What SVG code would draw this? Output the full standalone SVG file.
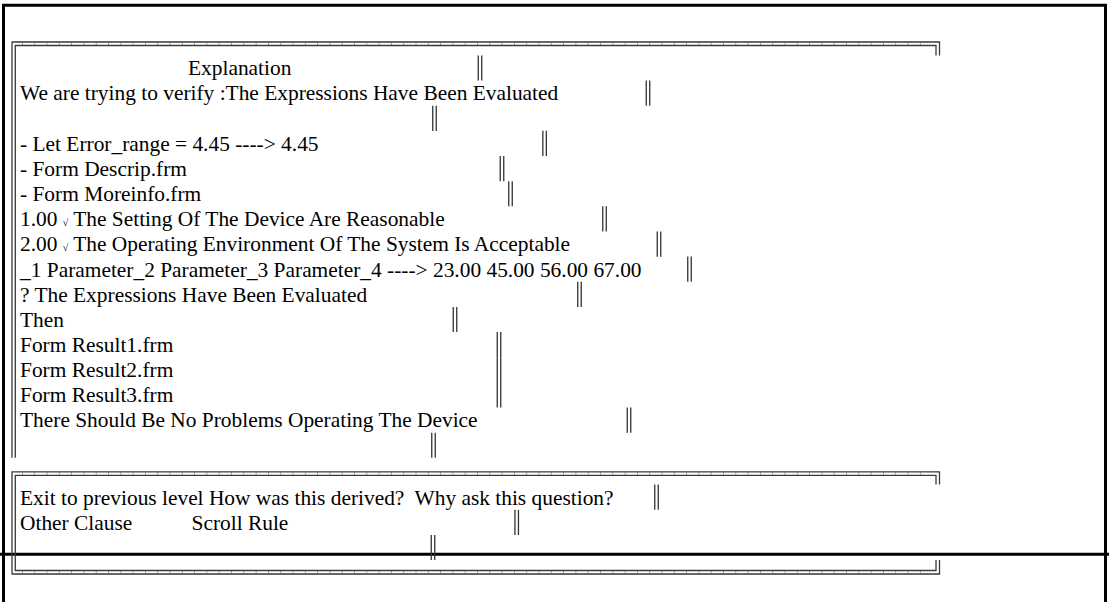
<svg xmlns="http://www.w3.org/2000/svg" xmlns:xlink="http://www.w3.org/1999/xlink" width="1109" height="602" viewBox="0 0 1109 602">
  <style>
    .t { font-family: "Liberation Serif", "Times New Roman", serif; font-size: 21.4px; fill: #000; }
    .chk { font-size: 10px; }
    .dbl { fill: none; stroke: #3a3a3a; stroke-width: 1.3; }
    .tick { fill: none; stroke: #9a9a9a; stroke-width: 3.5; stroke-dasharray: 0.8 11.5; }
    .frame { fill: none; stroke: #000; stroke-width: 3; }
  </style>
  <defs>
    <!-- double vertical bar, one text cell high, centred on its origin -->
    <path id="vbar" d="M-1.75,-12.6V12.6M1.75,-12.6V12.6" fill="none" stroke="#333" stroke-width="1.3"/>
  </defs>

  <rect width="1109" height="602" fill="#fff"/>

  <!-- outer window frame -->
  <g id="frame">
    <rect class="frame" x="3.5" y="5.25" width="1102" height="620"/>
    <line x1="0" y1="554.2" x2="1109" y2="554.2" stroke="#000" stroke-width="3"/>
  </g>

  <!-- explanation panel -->
  <g id="explanation-box">
    <path class="tick" d="M22,43.75H930"/>
    <path class="dbl" d="M12,457.8V42H939.5V55.4M15.3,457.8V45.5H936V55.4"/>
    <g class="t">
      <text x="188" y="75.3">Explanation</text>
      <text x="20" y="100.45">We are trying to verify :The Expressions Have Been Evaluated</text>
      <text x="20" y="150.75">- Let Error_range = 4.45 ----&gt; 4.45</text>
      <text x="20" y="175.9">- Form Descrip.frm</text>
      <text x="20" y="201.05">- Form Moreinfo.frm</text>
      <text x="20" y="226.2">1.00 <tspan class="chk">√</tspan> The Setting Of The Device Are Reasonable</text>
      <text x="20" y="251.35">2.00 <tspan class="chk">√</tspan> The Operating Environment Of The System Is Acceptable</text>
      <text x="20" y="276.5">_1 Parameter_2 Parameter_3 Parameter_4 ----&gt; 23.00 45.00 56.00 67.00</text>
      <text x="20" y="301.65">? The Expressions Have Been Evaluated</text>
      <text x="20" y="326.8">Then</text>
      <text x="20" y="351.95">Form Result1.frm</text>
      <text x="20" y="377.1">Form Result2.frm</text>
      <text x="20" y="402.25">Form Result3.frm</text>
      <text x="20" y="427.4">There Should Be No Problems Operating The Device</text>
    </g>
    <g id="explanation-bars">
      <use xlink:href="#vbar" x="480" y="68"/>
      <use xlink:href="#vbar" x="648" y="93.15"/>
      <use xlink:href="#vbar" x="434.5" y="118.3"/>
      <use xlink:href="#vbar" x="544.6" y="143.45"/>
      <use xlink:href="#vbar" x="502" y="168.6"/>
      <use xlink:href="#vbar" x="510.5" y="193.75"/>
      <use xlink:href="#vbar" x="604.5" y="218.9"/>
      <use xlink:href="#vbar" x="659" y="244.05"/>
      <use xlink:href="#vbar" x="689.5" y="269.2"/>
      <use xlink:href="#vbar" x="579.5" y="294.35"/>
      <use xlink:href="#vbar" x="455" y="319.5"/>
      <use xlink:href="#vbar" x="499" y="344.65"/>
      <use xlink:href="#vbar" x="499" y="369.8"/>
      <use xlink:href="#vbar" x="499" y="394.95"/>
      <use xlink:href="#vbar" x="629" y="420.1"/>
      <use xlink:href="#vbar" x="433.5" y="445.25"/>
    </g>
  </g>

  <!-- command panel -->
  <g id="command-box">
    <path class="tick" d="M22,473.55H930M22,572.25H930"/>
    <path class="dbl" d="M939.5,484.6V471.8H12V574H939.5V560M936,484.6V475.3H15.3V570.5H936V560"/>
    <g class="t">
      <text x="20" y="504.5">Exit to previous level How was this derived?<tspan x="414.5">Why ask this question?</tspan></text>
      <text x="20" y="529.65">Other Clause<tspan x="191.5">Scroll Rule</tspan></text>
    </g>
    <g id="command-bars">
      <use xlink:href="#vbar" x="656.5" y="497.2"/>
      <use xlink:href="#vbar" x="516.7" y="522.35"/>
      <use xlink:href="#vbar" x="433" y="547.5"/>
    </g>
  </g>
</svg>
